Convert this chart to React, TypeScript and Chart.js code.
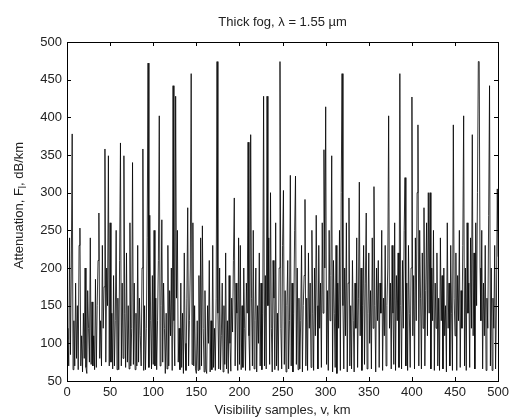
import React, { useEffect, useRef } from "react";
import { Chart, registerables } from "chart.js";

Chart.register(...registerables);

const TITLE = "Thick fog, λ = 1.55 µm";
const X_TITLE = "Visibility samples, v, km";
const Y_TITLE_PARTS = ["Attenuation, F", "l", ", dB/km"];
const X_MIN = 0;
const X_MAX = 500;
const X_STEP = 50;
const Y_MIN = 50;
const Y_MAX = 500;
const Y_STEP = 50;

// Attenuation per visibility sample (index 0..500)
const attenuation: number[] = [
  105, 120, 70, 240, 85, 200, 378, 65, 130, 70,
  180, 80, 150, 65, 230, 253, 70, 110, 62, 140,
  80, 200, 68, 60, 170, 120, 75, 240, 72, 155,
  70, 110, 65, 185, 68, 150, 210, 273, 80, 130,
  70, 230, 120, 175, 358, 75, 200, 150, 349, 70,
  260, 75, 140, 66, 190, 70, 130, 250, 65, 160,
  65, 210, 366, 70, 180, 80, 349, 140, 68, 220,
  75, 150, 66, 260, 70, 120, 340, 72, 180, 65,
  140, 70, 230, 75, 160, 110, 70, 200, 358, 64,
  150, 65, 120, 240, 472, 68, 270, 130, 66, 190,
  72, 250, 70, 160, 65, 130, 210, 402, 70, 150,
  264, 75, 180, 120, 60, 140, 66, 230, 70, 170,
  110, 200, 64, 442, 130, 70, 428, 160, 250, 75,
  120, 65, 180, 68, 140, 60, 220, 100, 64, 160,
  280, 70, 130, 200, 458, 72, 260, 70, 150, 66,
  60, 130, 64, 190, 65, 240, 70, 256, 120, 62,
  170, 66, 60, 150, 100, 210, 62, 130, 65, 230,
  68, 120, 64, 160, 474, 140, 66, 200, 65, 110,
  180, 62, 150, 72, 220, 66, 130, 60, 190, 100,
  63, 160, 115, 210, 293, 70, 180, 140, 64, 240,
  72, 230, 65, 150, 68, 200, 120, 64, 180, 140,
  367, 110, 64, 377, 160, 70, 250, 66, 130, 200,
  62, 150, 100, 220, 70, 180, 65, 140, 428, 70,
  190, 66, 428, 150, 240, 72, 300, 120, 62, 210,
  160, 65, 260, 70, 140, 64, 200, 474, 120, 66,
  230, 303, 72, 170, 62, 150, 210, 66, 130, 323,
  70, 180, 62, 140, 250, 322, 72, 200, 65, 160,
  66, 130, 230, 62, 150, 190, 291, 70, 160, 64,
  220, 120, 180, 68, 250, 140, 64, 200, 110, 270,
  150, 66, 230, 120, 180, 68, 260, 140, 357, 200,
  414, 72, 170, 64, 250, 130, 190, 349, 62, 210,
  140, 68, 230, 60, 180, 120, 250, 64, 300, 458,
  150, 66, 200, 110, 260, 62, 180, 293, 70, 150,
  66, 210, 130, 62, 180, 120, 240, 68, 160, 314,
  110, 200, 64, 150, 230, 72, 180, 273, 66, 140,
  220, 100, 170, 66, 240, 120, 308, 150, 62, 200,
  130, 210, 68, 180, 140, 250, 64, 160, 110, 230,
  70, 150, 200, 402, 120, 180, 66, 230, 140, 72,
  260, 64, 190, 130, 220, 68, 458, 150, 66, 210,
  120, 250, 320, 70, 180, 64, 230, 140, 68, 200,
  427, 110, 190, 66, 240, 130, 300, 390, 70, 250,
  160, 66, 220, 120, 280, 70, 170, 260, 110, 300,
  140, 300, 66, 200, 130, 250, 64, 180, 120, 220,
  70, 160, 64, 240, 130, 190, 66, 200, 110, 150,
  62, 260, 120, 180, 70, 230, 140, 64, 390, 160,
  110, 220, 64, 190, 130, 250, 68, 170, 120, 230,
  402, 70, 200, 64, 260, 140, 180, 68, 240, 120,
  377, 110, 220, 66, 260, 150, 300, 474, 474, 200,
  130, 250, 66, 180, 110, 230, 64, 160, 120, 270,
  442, 70, 200, 64, 160, 120, 230, 66, 150, 305,
  215,
];

const FONT = '"Liberation Sans", Arial, sans-serif';

const framePlugin = {
  id: "matlabFrame",
  afterDraw(chart: any) {
    const { ctx, chartArea } = chart;
    const { left, right, top, bottom } = chartArea;
    const xs = chart.scales.x;
    const ys = chart.scales.y;
    ctx.save();
    ctx.strokeStyle = "#000";
    ctx.lineWidth = 1;
    ctx.strokeRect(Math.round(left) + 0.5, Math.round(top) + 0.5, Math.round(right - left), Math.round(bottom - top));
    const tl = 4;
    ctx.beginPath();
    for (let v = X_MIN; v <= X_MAX; v += X_STEP) {
      const px = Math.round(xs.getPixelForValue(v)) + 0.5;
      ctx.moveTo(px, Math.round(bottom));
      ctx.lineTo(px, Math.round(bottom) - tl);
      ctx.moveTo(px, Math.round(top));
      ctx.lineTo(px, Math.round(top) + tl);
    }
    for (let v = Y_MIN; v <= Y_MAX; v += Y_STEP) {
      const py = Math.round(ys.getPixelForValue(v)) + 0.5;
      ctx.moveTo(Math.round(left), py);
      ctx.lineTo(Math.round(left) + tl, py);
      ctx.moveTo(Math.round(right), py);
      ctx.lineTo(Math.round(right) - tl, py);
    }
    ctx.stroke();

    ctx.fillStyle = "#222";
    ctx.font = `13px ${FONT}`;
    ctx.textAlign = "center";
    ctx.textBaseline = "middle";
    ctx.fillText(TITLE, (left + right) / 2, 22);
    ctx.fillText(X_TITLE, (left + right) / 2, 410);

    // Y title with subscript
    ctx.translate(19, (top + bottom) / 2 - 6);
    ctx.rotate(-Math.PI / 2);
    ctx.textAlign = "left";
    const f1 = `13px ${FONT}`;
    const f2 = `10px ${FONT}`;
    ctx.font = f1;
    const w0 = ctx.measureText(Y_TITLE_PARTS[0]).width;
    const w2 = ctx.measureText(Y_TITLE_PARTS[2]).width;
    ctx.font = f2;
    const w1 = ctx.measureText(Y_TITLE_PARTS[1]).width;
    let x = -(w0 + w1 + w2) / 2;
    ctx.font = f1;
    ctx.fillText(Y_TITLE_PARTS[0], x, 0);
    x += w0;
    ctx.font = f2;
    ctx.fillText(Y_TITLE_PARTS[1], x, 4);
    x += w1;
    ctx.font = f1;
    ctx.fillText(Y_TITLE_PARTS[2], x, 0);
    ctx.restore();
  },
};

export default function App() {
  const ref = useRef<HTMLCanvasElement>(null);
  useEffect(() => {
    document.body.style.margin = "0";
    const points = attenuation.map((v, i) => ({ x: i, y: v }));
    const chart = new Chart(ref.current!, {
      type: "line",
      data: {
        datasets: [
          {
            data: points,
            borderColor: "#000",
            borderWidth: 0.8,
            pointRadius: 0,
            tension: 0,
            fill: false,
          },
        ],
      },
      options: {
        animation: false,
        responsive: false,
        devicePixelRatio: 1,
        layout: { padding: { top: 42, right: 10, left: 0, bottom: 0 } },
        plugins: { legend: { display: false }, tooltip: { enabled: false }, title: { display: false } },
        scales: {
          x: {
            type: "linear",
            min: X_MIN,
            max: X_MAX,
            grid: { display: false, drawTicks: false },
            border: { display: false },
            ticks: { stepSize: X_STEP, padding: 4, color: "#222", font: { family: FONT, size: 13 }, maxRotation: 0 },
            afterFit: (s: any) => { s.height = 38; },
          },
          y: {
            type: "linear",
            min: Y_MIN,
            max: Y_MAX,
            grid: { display: false, drawTicks: false },
            border: { display: false },
            ticks: { stepSize: Y_STEP, padding: 5, color: "#222", font: { family: FONT, size: 13 } },
            afterFit: (s: any) => { s.width = 67; },
          },
        },
      },
      plugins: [framePlugin],
    });
    return () => chart.destroy();
  }, []);
  return (
    <div style={{ position: "fixed", left: 0, top: 0, width: 513, height: 419, background: "#fff" }}>
      <canvas ref={ref} width={513} height={419} />
    </div>
  );
}
